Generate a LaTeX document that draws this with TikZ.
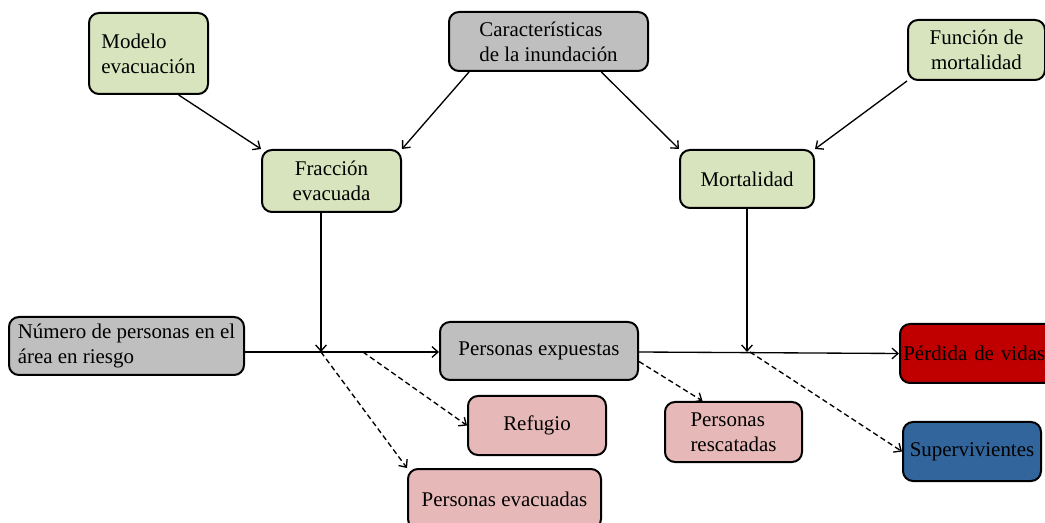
\documentclass[tikz,border=0pt]{standalone}
\usepackage{fontspec}
\setmainfont{Liberation Serif}
\usetikzlibrary{arrows.meta}

\definecolor{verde}{HTML}{D7E4BD}
\definecolor{gris}{HTML}{BFBFBF}
\definecolor{rojo}{HTML}{C00000}
\definecolor{azul}{HTML}{31659C}
\definecolor{rosa}{HTML}{E6B9B8}

\begin{document}
\begin{tikzpicture}[x=0.75pt,y=-0.75pt,
caja/.style={draw,line width=1.5pt,rounded corners=7.5pt,inner sep=2pt,
  font=\fontsize{15.7}{18.8}\selectfont},
wh/.style 2 args={minimum width=#1*0.75pt,minimum height=#2*0.75pt},
flecha/.style={-{Straight Barb[length=4.5pt,width=8pt]},line width=1pt},
discont/.style={flecha,dash pattern=on 4pt off 2.5pt}]
\useasboundingbox (0,0) rectangle (1045,523);
\clip (0,0) rectangle (1045,523);
% nodos de entrada
\node[caja,fill=verde,wh={119}{81},align=left] (modelo) at (148.5,53.5) {Modelo\\evacuaci\'on};
\node[caja,fill=gris,wh={199}{59},align=left] (caract) at (548.5,41.5) {Caracter\'isticas\\de la inundaci\'on};
\node[caja,fill=verde,wh={137}{60},align=center] (funcion) at (976.5,50) {Funci\'on de\\mortalidad};
\node[caja,fill=verde,wh={139}{62},align=center] (fraccion) at (331.5,181) {Fracci\'on\\evacuada};
\node[caja,fill=verde,wh={134}{58}] (mortal) at (747,179) {Mortalidad};
% nodos de personas
\node[caja,fill=gris,wh={235}{58},align=left] (numero) at (126.5,346) {N\'umero de personas en el\\\'area en riesgo};
\node[caja,fill=gris,wh={198}{58}] (expuestas) at (539,351) {Personas expuestas};
\node[caja,fill=rojo,wh={156}{59},text width=112pt,align=left,inner sep=1pt] (perdida) at (978,353.5) {P\'erdida de vidas};
\node[caja,fill=azul,wh={138}{59}] (superv) at (972,451.5) {Supervivientes};
\node[caja,fill=rosa,wh={138}{59}] (refugio) at (537,425.5) {Refugio};
\node[caja,fill=rosa,wh={137}{60},align=left] (rescat) at (733.5,432) {Personas\\rescatadas};
\node[caja,fill=rosa,wh={193}{60}] (evacuadas) at (504.5,499) {Personas evacuadas};
% puntos de union
\coordinate (jA) at (321,352);
\coordinate (jB) at (363,352);
\coordinate (jM) at (747,352);
\coordinate (jS) at (750,352);
% conectores
\path[flecha] (modelo.-54) edge (fraccion.north west);
\path[flecha] (caract.201) edge (fraccion.north east);
\path[flecha] (caract.-30) edge (mortal.north west);
\path[flecha] (funcion.south west) edge (mortal.north east);
\path[flecha] (fraccion.south -| jA) edge (jA);
\path[flecha] (mortal.south -| jM) edge (jM);
\path[flecha] (numero.east |- jA) edge (expuestas.west |- jA);
\path[flecha] (expuestas.east |- jM) edge (perdida.west);
\path[discont] (jA) edge (evacuadas.north west);
\path[discont] (jB) edge (refugio.west);
\path[discont] (expuestas.-6) edge (rescat.135);
\path[discont] (jS) edge (superv.west);
\end{tikzpicture}
\end{document}
